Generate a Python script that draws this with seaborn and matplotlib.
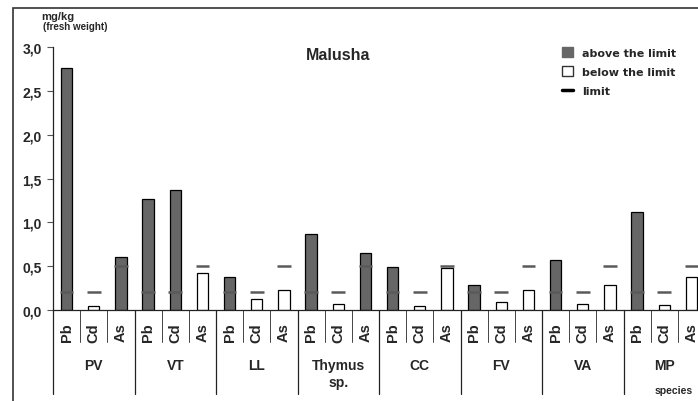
import numpy as np
import pandas as pd
import matplotlib
matplotlib.use("Agg")
import matplotlib.pyplot as plt
import seaborn as sns
from matplotlib.patches import Patch, Rectangle
from matplotlib.lines import Line2D
from matplotlib.transforms import blended_transform_factory

# --------------------------------------------------------------
# Veri
# --------------------------------------------------------------
species = ["PV", "VT", "LL", "Thymus\nsp.", "CC", "FV", "VA", "MP"]
elements = ["Pb", "Cd", "As"]
pb_vals = [2.76, 1.27, 0.38, 0.87, 0.49, 0.28, 0.57, 1.12]
cd_vals = [0.04, 1.37, 0.12, 0.07, 0.04, 0.09, 0.07, 0.06]
as_vals = [0.60, 0.42, 0.23, 0.65, 0.48, 0.23, 0.28, 0.38]
limits = {"Pb": 0.2, "Cd": 0.2, "As": 0.5}
yticks = [0.0, 0.5, 1.0, 1.5, 2.0, 2.5, 3.0]
ytick_labels = ["0,0", "0,5", "1,0", "1,5", "2,0", "2,5", "3,0"]

rows = []
for i, sp in enumerate(species):
    for el, vals in zip(elements, [pb_vals, cd_vals, as_vals]):
        v = vals[i]
        rows.append({"slot": f"{sp}_{el}", "species": sp, "element": el, "value": v,
                     "limit": limits[el],
                     "status": "above the limit" if v > limits[el] else "below the limit"})
df = pd.DataFrame(rows)
slots = list(df["slot"])

# --------------------------------------------------------------
# Grafik
# --------------------------------------------------------------
sns.set_style("white")
plt.rcParams["font.family"] = ["Liberation Sans", "DejaVu Sans"]

W, H = 698, 402
fig = plt.figure(figsize=(W / 100, H / 100), dpi=100)
ax = fig.add_axes([53 / W, (H - 311) / H, 652 / W, 263 / H])

dark = "#666666"
sns.barplot(data=df, x="slot", y="value", hue="status", order=slots,
            palette={"above the limit": dark, "below the limit": "white"},
            dodge=False, width=0.42, edgecolor="black", linewidth=0.9,
            legend=False, ax=ax)

# limit çizgileri
xs = np.arange(len(df))
ax.hlines(df["limit"], xs - 0.25, xs + 0.25, colors="#5a5a5a", linewidth=1.8, zorder=5)

ax.set_xlim(-0.5, len(df) - 0.5)
ax.set_ylim(0, 3)
ax.set_yticks(yticks)
ax.set_yticklabels(ytick_labels, fontsize=10, fontweight="bold")
ax.tick_params(axis="y", length=4, width=0.8, color="#555555", left=True, pad=4)
ax.set_xticks(xs)
ax.set_xticklabels(df["element"], rotation=90, fontsize=10.5, fontweight="bold")
ax.tick_params(axis="x", length=0, pad=9)
ax.set_xlabel("")
ax.set_ylabel("")
for s in ["top", "right"]:
    ax.spines[s].set_visible(False)
ax.spines["left"].set_color("#222222")
ax.spines["bottom"].set_color("#222222")
ax.spines["left"].set_linewidth(0.9)
ax.spines["bottom"].set_linewidth(0.9)

# ayırıcı çizgiler ve tür etiketleri
tr = blended_transform_factory(ax.transData, ax.transAxes)
for k in range(len(df) + 1):
    x = k - 0.5
    if k % 3 == 0:
        ax.plot([x, x], [0, -(395 - 311) / 263], color="#222222", lw=0.9,
                transform=tr, clip_on=False)
    else:
        ax.plot([x, x], [0, -(343 - 311) / 263], color="#444444", lw=0.7,
                transform=tr, clip_on=False)
for i, sp in enumerate(species):
    ax.text(3 * i + 1, -(359 - 311) / 263, sp, transform=tr, ha="center", va="top",
            fontsize=10, fontweight="bold", linespacing=1.3)

# başlık ve eksen yazıları
fig.text(338 / W, 1 - 55 / H, "Malusha", ha="center", va="center",
         fontsize=11.5, fontweight="bold")
fig.text(41 / W, 1 - 17 / H, "mg/kg", ha="left", va="center", fontsize=8, fontweight="bold")
fig.text(43 / W, 1 - 27 / H, "(fresh weight)", ha="left", va="center", fontsize=7,
         fontweight="bold")
fig.text(655 / W, 1 - 391 / H, "species", ha="left", va="center", fontsize=7.5,
         fontweight="bold")

# lejant
handles = [Patch(facecolor=dark, edgecolor=dark),
           Patch(facecolor="white", edgecolor="#333333"),
           Line2D([0], [0], color="black", lw=2.5)]
leg = fig.legend(handles, ["above the limit", "below the limit", "limit"],
                 loc="upper left", bbox_to_anchor=(552 / W, 1 - 38 / H), frameon=False,
                 prop={"family": "DejaVu Sans", "weight": "bold", "size": 8},
                 handlelength=1.0, handleheight=1.0, handletextpad=0.8, labelspacing=0.75)

# çerçeve
fig.patches.append(Rectangle((13 / W, -0.1), 1.2, 1.1 - 9 / H, transform=fig.transFigure,
                             fill=False, edgecolor="#333333", lw=1.2))

fig.savefig("out.png", dpi=100)
plt.close(fig)
